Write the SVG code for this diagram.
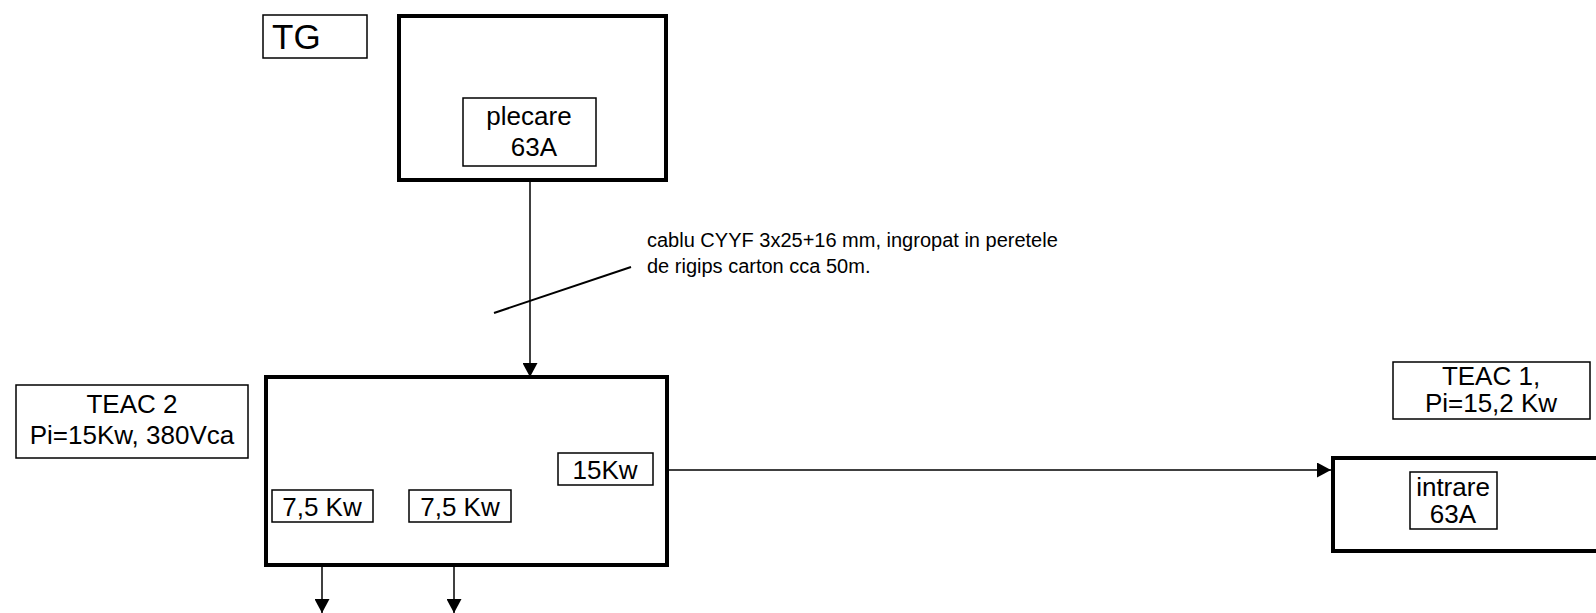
<svg xmlns="http://www.w3.org/2000/svg" width="1596" height="613" viewBox="0 0 1596 613">
<style>
text{font-family:"Liberation Sans",Arial,sans-serif;fill:#000}
.lbl{font-size:26px}
.note{font-size:20px}
.thin{fill:#fff;stroke:#000;stroke-width:1.5}
.thick{fill:#fff;stroke:#000;stroke-width:4}
.wire{stroke:#000;stroke-width:1.5;fill:none}
</style>
<defs>
<marker id="arr" viewBox="0 0 14 15" refX="14" refY="7.5" markerWidth="14" markerHeight="15" markerUnits="userSpaceOnUse" orient="auto">
<path d="M0,0 L14,7.5 L0,15 Z" fill="#000"/>
</marker>
</defs>
<rect width="1596" height="613" fill="#fff"/>
<g id="tg-label">
<rect class="thin" x="263" y="15" width="104" height="43"/>
<text x="272" y="49" style="font-size:35px">TG</text>
</g>
<g id="tg">
<rect class="thick" x="399" y="16" width="267" height="164"/>
<g id="plecare">
<rect class="thin" x="463" y="98" width="133" height="68"/>
<text class="lbl" x="529" y="125" text-anchor="middle">plecare</text>
<text class="lbl" x="534" y="156" text-anchor="middle">63A</text>
</g>
</g>
<g id="cable-note">
<text class="note" x="647" y="247">cablu CYYF 3x25+16 mm, ingropat in peretele</text>
<text class="note" x="647" y="273">de rigips carton cca 50m.</text>
</g>
<g id="teac2-label">
<rect class="thin" x="16" y="385" width="232" height="73"/>
<text class="lbl" x="132" y="413" text-anchor="middle">TEAC 2</text>
<text class="lbl" x="132" y="444" text-anchor="middle">Pi=15Kw, 380Vca</text>
</g>
<g id="teac2">
<rect class="thick" x="266" y="377" width="401" height="188"/>
<g id="out-15kw">
<rect class="thin" x="558" y="453" width="95" height="32"/>
<text class="lbl" x="605" y="479" text-anchor="middle">15Kw</text>
</g>
<g id="out-75a">
<rect class="thin" x="272" y="490" width="101" height="32"/>
<text class="lbl" x="322" y="516" text-anchor="middle">7,5 Kw</text>
</g>
<g id="out-75b">
<rect class="thin" x="409" y="490" width="102" height="32"/>
<text class="lbl" x="460" y="516" text-anchor="middle">7,5 Kw</text>
</g>
</g>
<g id="teac1-label">
<rect class="thin" x="1393" y="362" width="197" height="57"/>
<text class="lbl" x="1491" y="385" text-anchor="middle">TEAC 1,</text>
<text class="lbl" x="1491" y="412" text-anchor="middle">Pi=15,2 Kw</text>
</g>
<g id="teac1">
<rect class="thick" x="1333" y="458" width="280" height="93"/>
<g id="intrare">
<rect class="thin" x="1410" y="472" width="87" height="57"/>
<text class="lbl" x="1453" y="496" text-anchor="middle">intrare</text>
<text class="lbl" x="1453" y="523" text-anchor="middle">63A</text>
</g>
</g>
<g id="connectors">
<line class="wire" x1="530" y1="180" x2="530" y2="377" marker-end="url(#arr)"/>
<line x1="494" y1="313" x2="631" y2="267" stroke="#000" stroke-width="2"/>
<line class="wire" x1="667" y1="470" x2="1331" y2="470" marker-end="url(#arr)"/>
<line class="wire" x1="322" y1="565" x2="322" y2="613" marker-end="url(#arr)"/>
<line class="wire" x1="454" y1="565" x2="454" y2="613" marker-end="url(#arr)"/>
</g>
</svg>
